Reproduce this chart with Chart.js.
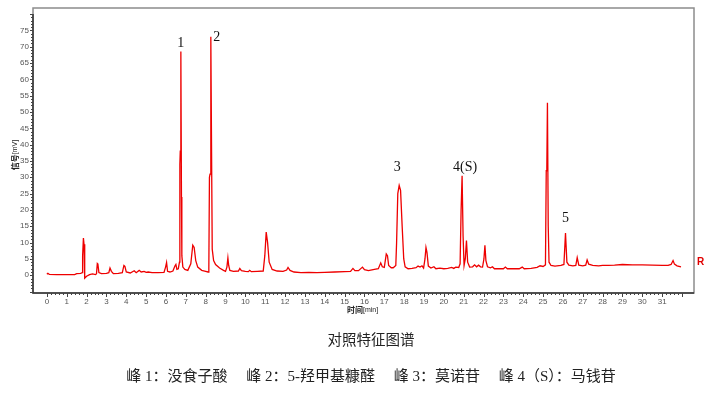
<!DOCTYPE html>
<html>
<head>
<meta charset="utf-8">
<script src="https://cdn.jsdelivr.net/npm/chart.js@4.4.1/dist/chart.umd.min.js"></script>
<style>
  html, body { margin: 0; padding: 0; background: #fff; }
  #chart { display: block; }
</style>
</head>
<body>
<canvas id="chart" width="713" height="394"></canvas>
<script>
// retention time (min) and signal (mV)
const times = [
  0.00, 0.05, 0.12, 0.5, 1.0, 1.4, 1.5, 1.7, 1.78, 1.80, 1.84, 1.87, 1.89, 1.92, 2.0, 2.15, 2.3, 2.45,
  2.50, 2.54, 2.57, 2.62, 2.75, 3.0, 3.12, 3.18, 3.25, 3.35, 3.6, 3.8, 3.88, 3.93, 4.0, 4.2, 4.4, 4.5,
  4.65, 4.75, 4.9, 5.0, 5.1, 5.3, 5.6, 5.9, 5.98, 6.03, 6.08, 6.2, 6.35, 6.45, 6.5, 6.55, 6.62, 6.68,
  6.70, 6.72, 6.75, 6.78, 6.80, 6.85, 6.95, 7.1, 7.25, 7.35, 7.42, 7.5, 7.6, 7.8, 8.0, 8.12, 8.16, 8.19,
  8.22, 8.26, 8.30, 8.33, 8.40, 8.5, 8.7, 8.9, 9.0, 9.07, 9.12, 9.16, 9.22, 9.4, 9.65, 9.72, 9.8, 10.0,
  10.15, 10.22, 10.3, 10.6, 10.9, 10.98, 11.05, 11.12, 11.2, 11.35, 11.6, 11.9, 12.08, 12.15, 12.25, 12.45,
  12.8, 13.2, 13.6, 14.0, 14.5, 15.0, 15.3, 15.42, 15.52, 15.7, 15.9, 16.0, 16.2, 16.5, 16.7, 16.82,
  16.9, 17.0, 17.1, 17.16, 17.22, 17.35, 17.45, 17.58, 17.62, 17.68, 17.75, 17.82, 17.9, 17.98, 18.05, 18.2,
  18.4, 18.6, 18.7, 18.8, 18.9, 18.98, 19.05, 19.1, 19.15, 19.22, 19.35, 19.5, 19.6, 19.8, 20.0, 20.2,
  20.4, 20.5, 20.6, 20.75, 20.82, 20.87, 20.92, 20.97, 21.02, 21.08, 21.14, 21.2, 21.3, 21.45, 21.55, 21.65,
  21.75, 21.85, 21.95, 22.02, 22.07, 22.12, 22.2, 22.35, 22.45, 22.55, 22.8, 23.0, 23.1, 23.2, 23.5, 23.8,
  23.95, 24.05, 24.4, 24.7, 24.85, 25.0, 25.12, 25.16, 25.19, 25.22, 25.26, 25.3, 25.4, 25.6, 25.9, 26.05,
  26.13, 26.2, 26.3, 26.5, 26.65, 26.72, 26.8, 27.0, 27.15, 27.22, 27.3, 27.5, 27.8, 28.0, 28.3, 28.6,
  29.0, 29.5, 30.0, 30.5, 31.0, 31.3, 31.45, 31.55, 31.62, 31.75, 31.95
];
const signals = [
  0.3, 0.6, 0.3, 0.2, 0.2, 0.2, 0.5, 0.6, 0.8, 6, 11.4, 9.5, 1, -0.9, -0.3, 0.2, 0.4, 0.2,
  0.5, 3.6, 3.4, 0.8, 0.5, 0.6, 0.8, 2.2, 1.2, 0.5, 0.6, 0.8, 3.0, 2.7, 1.0, 0.7, 1.4, 0.8,
  1.5, 1.0, 1.2, 0.9, 1.0, 0.8, 0.8, 0.9, 2.5, 3.9, 1.2, 1.0, 1.3, 2.8, 3.3, 1.8, 2.0, 4,
  34, 38, 68.5, 24, 6, 2.5, 1.8, 1.5, 3.5, 9.2, 8.5, 4.5, 2.5, 1.5, 1.2, 1.0, 2, 30,
  31, 73, 35, 8, 4.5, 3.3, 2.2, 1.5, 1.2, 2.5, 5.3, 3, 1.5, 1.2, 1.3, 2.1, 1.4, 1.2,
  1.1, 1.5, 1.1, 1.2, 1.3, 6, 13.2, 10, 4, 1.8, 1.3, 1.2, 1.6, 2.4, 1.5, 1.0,
  0.8, 0.9, 0.8, 0.9, 1.0, 1.1, 1.2, 2.1, 1.4, 1.4, 2.5, 1.7, 1.4, 1.8, 2.0, 3.8,
  2.6, 2.4, 6.5, 6.0, 3.0, 2.3, 2.3, 3, 10, 25, 27.5, 26, 15, 5, 2.6, 2.0,
  2.1, 2.3, 2.8, 2.5, 2.9, 2.2, 5, 8.5, 7, 2.8, 2.2, 2.6, 2.0, 2.2, 2.0, 2.1,
  2.4, 2.1, 2.5, 2.4, 3.5, 20, 30.5, 12, 3, 5, 10.6, 4, 2.5, 2.6, 3.2, 2.6,
  3.1, 2.6, 2.5, 5, 9.2, 4.5, 2.6, 2.3, 2.6, 2.0, 2.0, 2.0, 2.5, 2.0, 2.0, 2.0,
  2.5, 2.0, 2.1, 2.4, 2.9, 2.7, 3.2, 32, 33, 52.8, 15, 4, 3, 2.8, 3.0, 3.3,
  12.9, 4, 3.1, 2.9, 3.0, 5.4, 3.1, 2.9, 3.1, 4.7, 3.4, 3.0, 2.9, 3.0, 3.0, 3.1,
  3.3, 3.2, 3.2, 3.1, 3.0, 3.0, 3.3, 4.5, 3.4, 2.9, 2.6
];
const peakNames = ['1', '2', '3', '4(S)', '5'];
const peakTimes = [6.75, 8.26, 17.75, 20.92, 26.13];
const compounds = ['峰 1：没食子酸', '峰 2：5-羟甲基糠醛', '峰 3：莫诺苷', '峰 4（S）：马钱苷'];
const xTicks = [0, 1, 2, 3, 4, 5, 6, 7, 8, 9, 10, 11, 12, 13, 14, 15, 16, 17, 18, 19, 20, 21, 22, 23, 24, 25, 26, 27, 28, 29, 30, 31];
const yTicks = [0, 5, 10, 15, 20, 25, 30, 35, 40, 45, 50, 55, 60, 65, 70, 75];

// label offsets from each apex, in pixels
const labelOffsets = [[0, -8], [6, 0], [-2, -18], [3, -8], [0, -15]];
const frameRight = 694, frameTop = 8;

const decor = {
  id: 'decor',
  afterDraw(chart) {
    const { ctx, chartArea: a, scales: { x, y } } = chart;
    ctx.save();
    // outer gray frame
    ctx.strokeStyle = '#8c8c8c';
    ctx.lineWidth = 1.5;
    ctx.strokeRect(a.left, frameTop, frameRight - a.left, a.bottom - frameTop);
    // axis lines
    ctx.strokeStyle = '#333';
    ctx.beginPath();
    ctx.moveTo(a.left, a.top);
    ctx.lineTo(a.left, a.bottom);
    ctx.lineTo(frameRight, a.bottom);
    ctx.stroke();
    // major and minor ticks
    ctx.lineWidth = 1;
    ctx.strokeStyle = '#444';
    ctx.beginPath();
    for (let i = 0; i <= 160; i++) {
      const px = Math.round(x.getPixelForValue(i / 5)) + 0.5;
      ctx.moveTo(px, a.bottom);
      ctx.lineTo(px, a.bottom + (i % 5 === 0 ? 4 : 2));
    }
    for (let v = -5; v <= 80; v++) {
      const py = Math.round(y.getPixelForValue(v)) + 0.5;
      ctx.moveTo(a.left, py);
      ctx.lineTo(a.left - (v % 5 === 0 ? 3 : 2), py);
    }
    ctx.stroke();

    // peak labels
    ctx.fillStyle = '#111';
    ctx.font = '14px "Liberation Serif", serif';
    ctx.textAlign = 'center';
    ctx.textBaseline = 'middle';
    peakNames.forEach((name, k) => {
      let best = -1;
      times.forEach((t, i) => {
        if (Math.abs(t - peakTimes[k]) < 0.1 && (best < 0 || signals[i] > signals[best])) best = i;
      });
      const px = x.getPixelForValue(times[best]) + labelOffsets[k][0];
      const py = y.getPixelForValue(signals[best]) + labelOffsets[k][1];
      ctx.fillText(name, px, py);
    });

    // axis titles
    ctx.textAlign = 'left';
    ctx.fillStyle = '#222';
    ctx.font = 'bold 8px "Noto Sans CJK SC", sans-serif';
    ctx.fillText('时间', 347, 310);
    const w = ctx.measureText('时间').width;
    ctx.font = '7px "Liberation Sans", sans-serif';
    ctx.fillText('[min]', 347 + w, 310);

    ctx.save();
    ctx.translate(15, 155);
    ctx.rotate(-Math.PI / 2);
    ctx.font = 'bold 8px "Noto Sans CJK SC", sans-serif';
    const w1 = ctx.measureText('信号').width;
    ctx.font = '7px "Liberation Sans", sans-serif';
    const w2 = ctx.measureText('[mV]').width;
    ctx.font = 'bold 8px "Noto Sans CJK SC", sans-serif';
    ctx.fillText('信号', -(w1 + w2) / 2, 0);
    ctx.font = '7px "Liberation Sans", sans-serif';
    ctx.fillText('[mV]', -(w1 + w2) / 2 + w1, 0);
    ctx.restore();

    // trace marker
    ctx.fillStyle = '#e00000';
    ctx.font = 'bold 10px "Liberation Sans", sans-serif';
    ctx.fillText('R', 697, 262);

    // captions under the chart
    ctx.fillStyle = '#222';
    ctx.textAlign = 'center';
    ctx.font = '14.5px "Noto Sans CJK SC", sans-serif';
    ctx.fillText('对照特征图谱', 371, 339);
    ctx.font = '15px "Liberation Serif", "Noto Sans CJK SC", serif';
    ctx.fillText(compounds.join('     '), 371, 377);
    ctx.restore();
  }
};

new Chart(document.getElementById('chart').getContext('2d'), {
  type: 'line',
  data: {
    datasets: [{
      data: times.map((t, i) => ({ x: t, y: signals[i] })),
      borderColor: '#ee0000',
      borderWidth: 1.3,
      pointRadius: 0,
      tension: 0,
      fill: false
    }]
  },
  options: {
    responsive: false,
    animation: false,
    devicePixelRatio: 1,
    layout: { padding: { top: 14, right: 31, left: 0, bottom: 74 } },
    plugins: { legend: { display: false }, tooltip: { enabled: false } },
    scales: {
      x: {
        type: 'linear',
        min: -0.7,
        max: 32,
        grid: { display: false, drawTicks: false },
        border: { display: false },
        ticks: { padding: 4, color: '#555', font: { size: 8, family: 'Liberation Sans' }, maxRotation: 0 },
        afterBuildTicks: s => { s.ticks = xTicks.map(v => ({ value: v })); },
        afterFit: s => { s.height = 27; }
      },
      y: {
        min: -5.43,
        max: 80,
        grid: { display: false, drawTicks: false },
        border: { display: false },
        ticks: { padding: 4, color: '#555', font: { size: 8, family: 'Liberation Sans' } },
        afterBuildTicks: s => { s.ticks = yTicks.map(v => ({ value: v })); },
        afterFit: s => { s.width = 33; }
      }
    }
  },
  plugins: [decor]
});
</script>
</body>
</html>
